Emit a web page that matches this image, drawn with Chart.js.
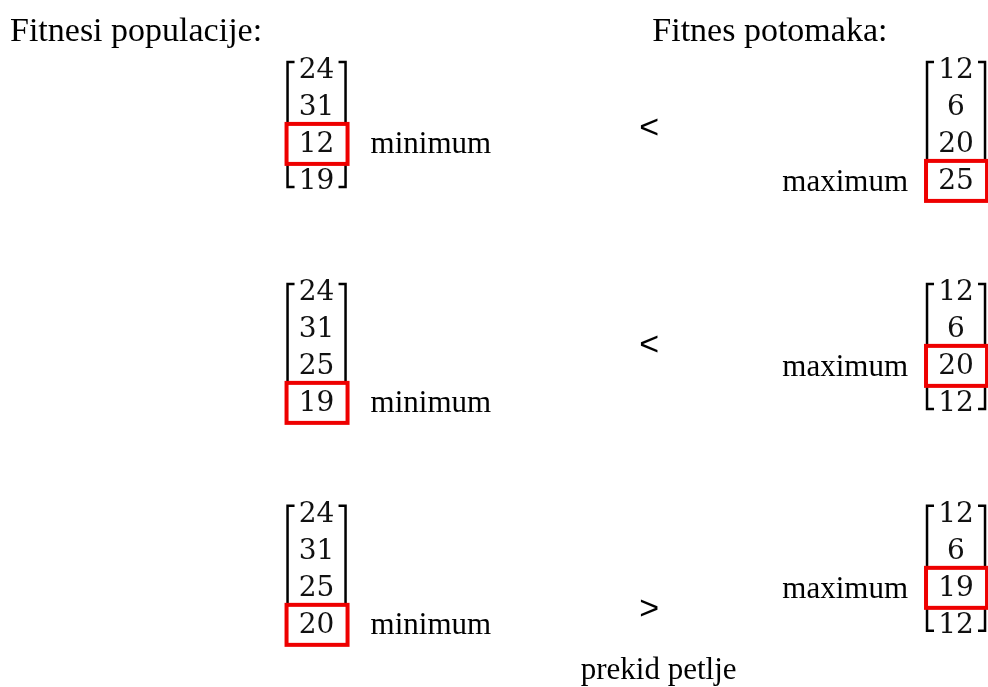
<!DOCTYPE html>
<html>
<head>
<meta charset="utf-8">
<script src="https://cdn.jsdelivr.net/npm/chart.js@4/dist/chart.umd.min.js"></script>
<style>
  html, body { margin: 0; padding: 0; background: #fff; }
  #wrap { width: 988px; height: 687px; position: relative; }
</style>
</head>
<body>
<div id="wrap"><canvas id="chartFitnes"></canvas></div>
<script>
// fitnes populacije i potomaka po iteracijama
const populacija = [[24, 31, 12, 19], [24, 31, 25, 19], [24, 31, 25, 20]];
const potomci = [[12, 6, 20, 25], [12, 6, 20, 12], [12, 6, 19, 12]];
const minIndeks = [2, 3, 3];
const maxIndeks = [3, 2, 2];
const znakovi = ['<', '<', '>'];
const naslovi = ['Fitnesi populacije:', 'Fitnes potomaka:'];
const oznake = { min: 'minimum', max: 'maximum', kraj: 'prekid petlje' };

const RED_PO_GRUPI = 6;

function tocke(matrice, stupac) {
    const out = [];
    matrice.forEach((m, g) => {
        m.forEach((v, r) => out.push({ x: stupac, y: g * RED_PO_GRUPI + r, v: v, g: g, r: r }));
    });
    return out;
}

const matricePlugin = {
    id: 'matrice',
    afterDatasetsDraw(chart) {
        const ctx = chart.ctx;
        const xs = chart.scales.x, ys = chart.scales.y;
        ctx.save();

        // naslovi
        ctx.fillStyle = '#000';
        ctx.font = '34px "Liberation Serif"';
        ctx.textBaseline = 'alphabetic';
        ctx.textAlign = 'left';
        ctx.fillText(naslovi[0], chart.chartArea.left + 10, 41);
        ctx.fillText(naslovi[1], xs.getPixelForValue(1.05), 41);

        chart.data.datasets.forEach((ds, di) => {
            const meta = chart.getDatasetMeta(di);
            const oznaceni = di === 0 ? minIndeks : maxIndeks;
            // zagrade
            populacija.forEach((_, g) => {
                const el = meta.data.filter((p, i) => ds.data[i].g === g);
                const cx = el[0].x;
                const top = el[0].y - 8;
                const bot = el[el.length - 1].y + 6;
                ctx.strokeStyle = '#000';
                ctx.lineWidth = 2.5;
                [-1, 1].forEach(s => {
                    const bx = cx + s * 29;
                    ctx.beginPath();
                    ctx.moveTo(bx - s * 7, top);
                    ctx.lineTo(bx, top);
                    ctx.lineTo(bx, bot);
                    ctx.lineTo(bx - s * 7, bot);
                    ctx.stroke();
                });
            });
            // crveni okviri
            meta.data.forEach((p, i) => {
                const d = ds.data[i];
                if (oznaceni[d.g] !== d.r) return;
                ctx.fillStyle = '#fff';
                ctx.fillRect(p.x - 30, p.y - 20, 61, 40);
                ctx.strokeStyle = '#ee0000';
                ctx.lineWidth = 4;
                ctx.strokeRect(p.x - 30, p.y - 20, 61, 40);
                ctx.fillStyle = '#000';
                ctx.font = '31px "Liberation Serif"';
                ctx.textBaseline = 'middle';
                if (di === 0) {
                    ctx.textAlign = 'left';
                    ctx.fillText(oznake.min, p.x + 54, p.y + 1);
                } else {
                    ctx.textAlign = 'right';
                    ctx.fillText(oznake.max, p.x - 48, p.y + 2);
                }
            });
            // brojevi
            ctx.fillStyle = '#111';
            ctx.font = '28px "DejaVu Serif"';
            ctx.textAlign = 'center';
            ctx.textBaseline = 'middle';
            meta.data.forEach((p, i) => ctx.fillText(String(ds.data[i].v), p.x, p.y + 1));
        });

        // znakovi usporedbe
        const znakRed = [1.6, 1.45, 2.6];
        ctx.fillStyle = '#000';
        ctx.font = '34px "Liberation Sans"';
        ctx.textAlign = 'center';
        ctx.textBaseline = 'middle';
        znakovi.forEach((z, g) => {
            ctx.fillText(z, xs.getPixelForValue(1.04), ys.getPixelForValue(g * RED_PO_GRUPI + znakRed[g]));
        });
        ctx.font = '31px "Liberation Serif"';
        ctx.fillText(oznake.kraj, xs.getPixelForValue(1.07),
            ys.getPixelForValue((znakovi.length - 1) * RED_PO_GRUPI + 4.25));
        ctx.restore();
    }
};

new Chart(document.getElementById('chartFitnes').getContext('2d'), {
    type: 'scatter',
    data: {
        datasets: [
            { label: 'populacija', data: tocke(populacija, 0), pointRadius: 0, pointHoverRadius: 0 },
            { label: 'potomci', data: tocke(potomci, 2), pointRadius: 0, pointHoverRadius: 0 }
        ]
    },
    options: {
        responsive: true,
        maintainAspectRatio: false,
        animation: false,
        layout: { padding: 0 },
        plugins: { legend: { display: false }, tooltip: { enabled: false } },
        scales: {
            x: { type: 'linear', display: false, min: -0.99, max: 2.1 },
            y: { type: 'linear', display: false, reverse: true, min: -1.89, max: 16.68 }
        }
    },
    plugins: [matricePlugin]
});
</script>
</body>
</html>
